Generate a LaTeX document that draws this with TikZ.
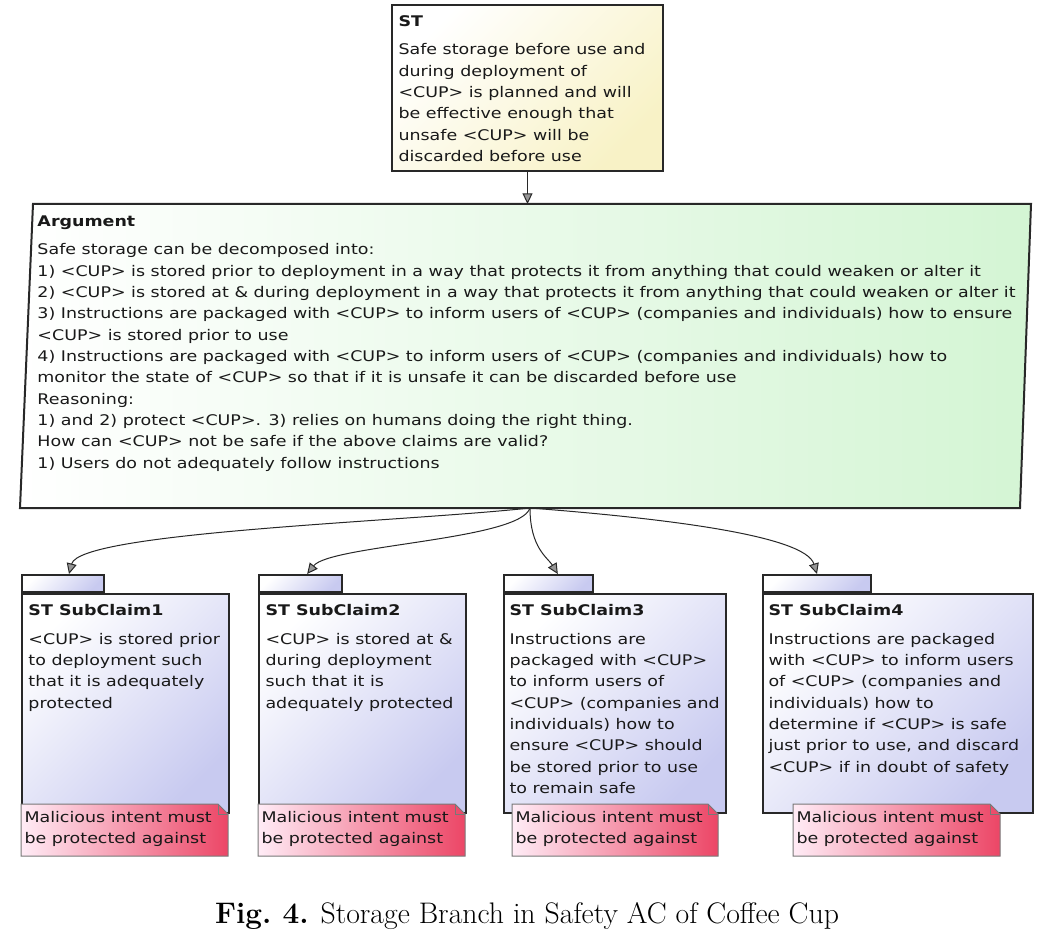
\documentclass[tikz,border=0pt]{standalone}
\usepackage{fontspec}
\setsansfont[FakeStretch=1.19]{DejaVu Sans}
\usetikzlibrary{arrows.meta}
\definecolor{stYellow}{RGB}{248,242,198}
\definecolor{argGreen}{RGB}{212,245,212}
\definecolor{scLilac}{RGB}{200,202,240}
\definecolor{notePink}{RGB}{255,236,246}
\definecolor{noteRed}{RGB}{236,70,102}
\definecolor{lineGrey}{RGB}{40,40,40}
\definecolor{tipGrey}{RGB}{150,150,150}
\definecolor{noteLine}{RGB}{120,120,120}
\newcommand{\acfont}{\fontsize{11}{16}\selectfont\sffamily}

\tikzset{every picture/.style={line width=0.75pt},
  goalbox/.style={draw=lineGrey, line width=1.5pt, inner sep=0pt, anchor=north west},
  tabbox/.style={draw=lineGrey, line width=1.5pt, inner sep=0pt, anchor=south west, minimum height=12.75pt, left color=white, right color=scLilac, shading angle=45},
  boxtext/.style={inner sep=0pt, anchor=north west, align=left, font=\acfont, text=black!90},
  notefill/.style={draw=noteLine, line width=0.75pt, left color=notePink, right color=noteRed},
  supports/.style={draw=lineGrey, line width=0.75pt, -{Triangle[length=8pt,width=7.5pt,fill=tipGrey]}}
}

\begin{document}
\begin{tikzpicture}[x=0.75pt,y=0.75pt,yscale=-1,xscale=1]
%set diagram left start at 0, and has height of 934
\fill[white] (0,0) rectangle (1061,934);
\useasboundingbox (0,0) rectangle (1061,934);

%Shape: Rectangle [ST]
\node[goalbox, left color=white, right color=stYellow, shading angle=45, minimum width=203.25pt, minimum height=124.5pt] (st) at (391,4) {};
%Shape: Parallelogram [Argument]
\draw[draw=lineGrey, line width=1.5pt, left color=white, right color=argGreen] (33,204) -- (1031,204) -- (1020,508) -- (20,508) -- cycle ;
\coordinate (arg in) at (526,204);
\coordinate (arg out) at (530,508);

%Shape: Rectangle [SubClaim1]
\node[goalbox, left color=white, right color=scLilac, shading angle=45, minimum width=155.25pt, minimum height=164.25pt] (sc1) at (21,593) {};
\node[tabbox, minimum width=61.5pt] (tab1) at (sc1.north west) {};
%Shape: Rectangle [SubClaim2]
\node[goalbox, left color=white, right color=scLilac, shading angle=45, minimum width=155.25pt, minimum height=164.25pt] (sc2) at (258,593) {};
\node[tabbox, minimum width=62.25pt] (tab2) at (sc2.north west) {};
%Shape: Rectangle [SubClaim3]
\node[goalbox, left color=white, right color=scLilac, shading angle=45, minimum width=166.5pt, minimum height=164.25pt] (sc3) at (503,593) {};
\node[tabbox, minimum width=66.75pt] (tab3) at (sc3.north west) {};
%Shape: Rectangle [SubClaim4]
\node[goalbox, left color=white, right color=scLilac, shading angle=45, minimum width=202.5pt, minimum height=164.25pt] (sc4) at (762,593) {};
\node[tabbox, minimum width=81pt] (tab4) at (sc4.north west) {};

%Shape: Note
\draw[notefill] (21,804) -- (218,804) -- (228,814) -- (228,856) -- (21,856) -- cycle ;
\draw[noteLine] (218,804) -- (218,814) -- (228,814) ;
%Shape: Note
\draw[notefill] (258,804) -- (455,804) -- (465,814) -- (465,856) -- (258,856) -- cycle ;
\draw[noteLine] (455,804) -- (455,814) -- (465,814) ;
%Shape: Note
\draw[notefill] (512,804) -- (708,804) -- (718,814) -- (718,856) -- (512,856) -- cycle ;
\draw[noteLine] (708,804) -- (708,814) -- (718,814) ;
%Shape: Note
\draw[notefill] (793,804) -- (990,804) -- (1000,814) -- (1000,856) -- (793,856) -- cycle ;
\draw[noteLine] (990,804) -- (990,814) -- (1000,814) ;

%Straight Lines
\draw[supports] (st.south) -- (st.south |- arg in) ;
%Curve Lines
\draw[supports] (arg out) .. controls (400,522) and (80,532) .. ([xshift=4.5pt]tab1.north) ;
%Curve Lines
\draw[supports] (arg out) .. controls (520,540) and (330,545) .. ([xshift=5pt]tab2.north) ;
%Curve Lines
\draw[supports] (arg out) .. controls (530,548) and (548,558) .. ([xshift=7pt]tab3.north) ;
%Curve Lines
\draw[supports] (arg out) .. controls (660,518) and (805,535) .. (tab4.north) ;

% Text Node
\node[boxtext] (st text) at (398,15) {\textbf{ST}\\[5.4pt]Safe storage before use and\\during deployment of\\<CUP> is planned and will\\be effective enough that\\unsafe <CUP> will be\\discarded before use};
% Text Node
\node[boxtext] (arg text) at (37,215) {\textbf{Argument}\\[5.4pt]Safe storage can be decomposed into:\\1) <CUP> is stored prior to deployment in a way that protects it from anything that could weaken or alter it\\2) <CUP> is stored at \& during deployment in a way that protects it from anything that could weaken or alter it\\3) Instructions are packaged with <CUP> to inform users of <CUP> (companies and individuals) how to ensure\\<CUP> is stored prior to use\\4) Instructions are packaged with <CUP> to inform users of <CUP> (companies and individuals) how to\\monitor the state of <CUP> so that if it is unsafe it can be discarded before use\\Reasoning:\\1) and 2) protect <CUP>. 3) relies on humans doing the right thing.\\How can <CUP> not be safe if the above claims are valid?\\1) Users do not adequately follow instructions};
% Text Node
\node[boxtext] (sc1 text) at (28,604) {\textbf{ST SubClaim1}\\[5.4pt]<CUP> is stored prior\\to deployment such\\that it is adequately\\protected};
% Text Node
\node[boxtext] (sc2 text) at (265,604) {\textbf{ST SubClaim2}\\[5.4pt]<CUP> is stored at \&\\during deployment\\such that it is\\adequately protected};
% Text Node
\node[boxtext] (sc3 text) at (509,604) {\textbf{ST SubClaim3}\\[5.4pt]Instructions are\\packaged with <CUP>\\to inform users of\\<CUP> (companies and\\individuals) how to\\ensure <CUP> should\\be stored prior to use\\to remain safe};
% Text Node
\node[boxtext] (sc4 text) at (768,604) {\textbf{ST SubClaim4}\\[5.4pt]Instructions are packaged\\with <CUP> to inform users\\of <CUP> (companies and\\individuals) how to\\determine if <CUP> is safe\\just prior to use, and discard\\<CUP> if in doubt of safety};
% Text Node
\node[boxtext] (note1) at (24,811) {Malicious intent must\\be protected against};
% Text Node
\node[boxtext] (note2) at (261,811) {Malicious intent must\\be protected against};
% Text Node
\node[boxtext] (note3) at (515,811) {Malicious intent must\\be protected against};
% Text Node
\node[boxtext] (note4) at (796,811) {Malicious intent must\\be protected against};
% Text Node
\node[anchor=base, inner sep=0pt, font=\fontsize{22.3}{26}\selectfont] (caption) at (527,923) {\textbf{Fig.\ 4.} Storage Branch in Safety AC of Coffee Cup};
\end{tikzpicture}
\end{document}
